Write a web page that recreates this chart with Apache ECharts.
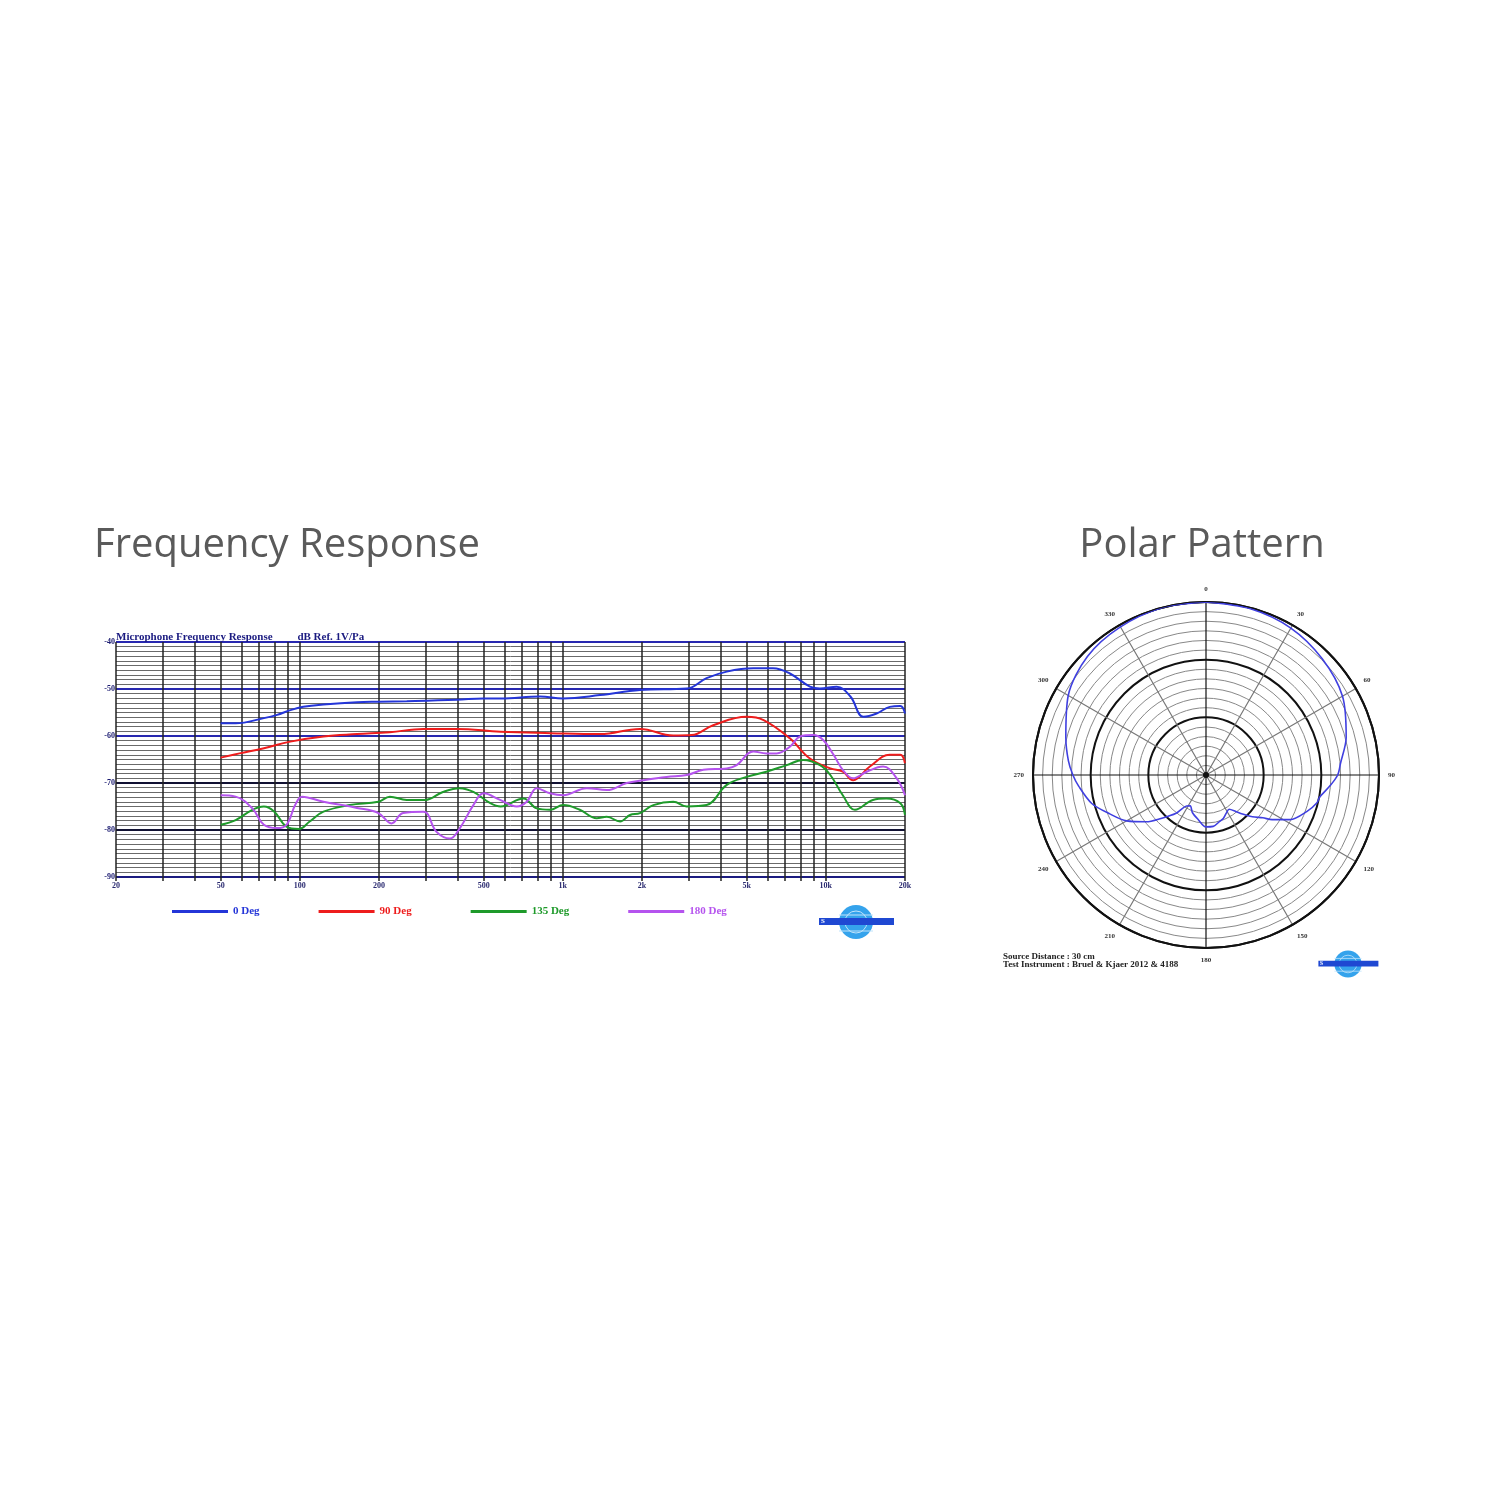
<!DOCTYPE html>
<html>
<head>
<meta charset="utf-8">
<script src="https://cdn.jsdelivr.net/npm/echarts@6/dist/echarts.min.js"></script>
<style>
  html, body { margin: 0; padding: 0; background: #fff; }
  #main { width: 1500px; height: 1500px; }
</style>
</head>
<body>
<div id="main"></div>
<script>
// frequency response, [Hz, dB re 1V/Pa]
var deg0 = [[50,-57.3],[57,-57.3],[73,-56.2],[82,-55.5],[92,-54.5],[103,-53.8],[123,-53.3],[165,-52.8],[200,-52.7],
  [255,-52.6],[395,-52.3],[500,-52.0],[580,-52.0],[820,-51.6],[1000,-52.0],[1385,-51.3],[1965,-50.2],[2960,-49.9],
  [3520,-47.7],[4200,-46.3],[5300,-45.6],[6300,-45.6],[7300,-46.7],[8700,-49.5],[9500,-49.9],[11000,-49.5],
  [12400,-51.6],[13900,-55.9],[15600,-55.2],[17500,-53.8],[19200,-53.6],[20000,-55.2]];
var deg90 = [[50,-64.6],[59,-63.7],[73,-62.6],[92,-61.2],[123,-60.1],[165,-59.6],[220,-59.2],[295,-58.5],[395,-58.5],
  [580,-59.1],[900,-59.4],[1385,-59.6],[1965,-58.5],[2630,-59.9],[3090,-59.8],[3730,-57.7],[5000,-55.9],[5800,-56.6],
  [7300,-60.5],[8700,-64.8],[10400,-66.9],[11600,-67.6],[12700,-69.4],[14700,-66.5],[17500,-64.0],[19200,-64.0],[20000,-65.8]];
var deg135 = [[50,-78.9],[57,-77.9],[66,-75.7],[73,-75.0],[80,-76.1],[89,-79.3],[99,-79.8],[109,-78.2],[123,-76.1],
  [155,-74.7],[199,-74.0],[220,-72.9],[255,-73.6],[300,-73.6],[350,-71.9],[405,-71.1],[457,-71.9],[530,-74.3],
  [580,-75.0],[708,-73.3],[796,-75.4],[894,-75.7],[1004,-74.7],[1160,-75.7],[1345,-77.5],[1470,-77.2],[1650,-78.2],
  [1800,-76.8],[1965,-76.4],[2210,-74.7],[2630,-74.0],[2960,-75.0],[3520,-74.7],[4200,-70.4],[5000,-68.7],[5940,-67.6],
  [7100,-66.2],[8200,-65.1],[9500,-66.2],[10400,-68.3],[11600,-72.6],[12900,-75.7],[15100,-73.6],[17000,-73.3],
  [19200,-74.3],[20000,-76.8]];
var deg180 = [[50,-72.6],[57,-72.9],[66,-75.4],[73,-78.9],[82,-79.6],[89,-78.9],[96,-74.7],[102,-72.9],[123,-74.0],
  [165,-75.3],[199,-76.4],[223,-78.6],[247,-76.4],[295,-76.1],[331,-80.4],[372,-81.8],[406,-79.6],[457,-74.7],
  [500,-72.2],[577,-73.6],[668,-75.0],[729,-74.0],[796,-71.1],[894,-72.2],[1004,-72.6],[1233,-71.1],[1470,-71.5],
  [1750,-70.0],[2020,-69.4],[2480,-68.7],[2960,-68.3],[3420,-67.2],[4200,-66.9],[4580,-66.2],[5300,-63.3],[5940,-63.7],
  [6500,-63.7],[7300,-62.3],[7980,-60.1],[8960,-59.8],[9790,-60.9],[10700,-64.0],[11600,-67.2],[12700,-69.0],
  [14300,-67.6],[16500,-66.5],[18600,-69.0],[20000,-72.6]];

var gridFreqs = [20,30,40,50,60,70,80,90,100,200,300,400,500,600,700,800,900,1000,
  2000,3000,4000,5000,6000,7000,8000,9000,10000,20000];
var labelFreqs = [20,50,100,200,500,1000,2000,5000,10000,20000];
var freqLabels = ['20','50','100','200','500','1k','2k','5k','10k','20k'];

// polar pattern, angle in degrees, level in dB (outer ring = 0)
var polarAngle = [0,15,30,45,60,75,85,90,95,101,104,110,118,124,127,132,138,141,146,152,158,164,172,180,
  190,200,207,212,218,226,232,240,248,256,265,270,276,285,300,315,330,345,360];
var polarLevel = [0,-0.2,-0.7,-1.8,-3.2,-5.8,-7.9,-8.6,-10.1,-11.9,-12.2,-13.7,-16.2,-19.4,-21.2,-23.0,-25.2,-26.3,
  -27.4,-27.0,-26.3,-25.9,-25.2,-25.2,-26.6,-27.7,-28.8,-28.4,-25.9,-23.0,-20.2,-16.9,-14.4,-11.5,-9.4,-8.3,-7.2,
  -5.8,-2.9,-1.1,-0.4,0,0];

var seriesNames = ['0 Deg', '90 Deg', '135 Deg', '180 Deg'];
var seriesColors = ['#2435d8', '#ee1c1c', '#1e9a2a', '#b553ee'];
var seriesData = [deg0, deg90, deg135, deg180];

function toLog(pairs) {
  return pairs.map(function (p) { return [Math.log10(p[0]), p[1]]; });
}

var myChart = echarts.init(document.getElementById('main'));

var smallFont = 'Liberation Serif';

var lineSeries = seriesData.map(function (d, i) {
  return {
    name: seriesNames[i],
    type: 'line',
    xAxisIndex: 0,
    yAxisIndex: 0,
    data: toLog(d),
    smooth: 0.4,
    showSymbol: false,
    lineStyle: { color: seriesColors[i], width: 2 },
    itemStyle: { color: seriesColors[i] },
    z: 5
  };
});

function logo(cx, cy, s) {
  return {
    type: 'group',
    x: cx, y: cy,
    scaleX: s, scaleY: s,
    children: [
      { type: 'circle', shape: { cx: 0, cy: 0, r: 17 }, style: { fill: '#35a3ec' } },
      { type: 'circle', shape: { cx: 0, cy: 0, r: 11 }, style: { fill: 'none', stroke: '#bfe3fb', lineWidth: 1 } },
      { type: 'line', shape: { x1: -17, y1: -7, x2: 17, y2: -7 }, style: { stroke: '#bfe3fb', lineWidth: 1 } },
      { type: 'line', shape: { x1: -17, y1: 9, x2: 17, y2: 9 }, style: { stroke: '#bfe3fb', lineWidth: 1 } },
      { type: 'rect', shape: { x: -37, y: -4, width: 75, height: 7 }, style: { fill: '#1f48d2' } },
      { type: 'text', style: { text: 'S', x: -35, y: -4, fill: '#ffffff', font: 'bold 7px ' + smallFont } }
    ]
  };
}

var option = {
  backgroundColor: '#ffffff',
  animation: false,
  title: [
    { text: 'Frequency Response', left: 94, top: 526, padding: 0,
      textStyle: { fontFamily: 'Open Sans', fontSize: 40, fontWeight: 'normal', color: '#5a5a5a' } },
    { text: 'Polar Pattern', left: 1202, top: 526, padding: 0, textAlign: 'center',
      textStyle: { fontFamily: 'Open Sans', fontSize: 40, fontWeight: 'normal', color: '#5a5a5a' } },
    { text: 'Microphone Frequency Response         dB Ref. 1V/Pa', left: 116, top: 632, padding: 0,
      textStyle: { fontFamily: smallFont, fontSize: 11, fontWeight: 'bold', color: '#1a1a80' } },
    { text: 'Source Distance : 30 cm\nTest Instrument : Bruel & Kjaer 2012 & 4188', left: 1003, top: 953, padding: 0,
      textStyle: { fontFamily: smallFont, fontSize: 9, fontWeight: 'bold', color: '#222', lineHeight: 8 } }
  ],
  legend: {
    left: 172,
    top: 906,
    padding: 0,
    itemWidth: 56,
    itemHeight: 3,
    itemGap: 59,
    icon: 'rect',
    data: seriesNames.map(function (n, i) {
      return { name: n, textStyle: { color: seriesColors[i] } };
    }),
    textStyle: { fontFamily: smallFont, fontSize: 11, fontWeight: 'bold' }
  },
  grid: { left: 116, top: 642, width: 789, height: 235 },
  xAxis: {
    type: 'value',
    min: Math.log10(20),
    max: Math.log10(20000),
    axisLine: { show: false },
    axisTick: {
      show: true,
      length: 4,
      customValues: gridFreqs.map(function (f) { return Math.log10(f); }),
      lineStyle: { color: '#222', width: 1.5 }
    },
    axisLabel: {
      customValues: labelFreqs.map(function (f) { return Math.log10(f); }),
      margin: 5,
      fontFamily: smallFont,
      fontSize: 8,
      fontWeight: 'bold',
      color: '#2a2a70',
      formatter: function (v) {
        var f = Math.pow(10, v);
        var best = 0;
        for (var i = 0; i < labelFreqs.length; i++) {
          if (Math.abs(labelFreqs[i] - f) < Math.abs(labelFreqs[best] - f)) best = i;
        }
        return freqLabels[best];
      }
    },
    splitLine: { show: true, lineStyle: { color: '#222', width: 1.5 } }
  },
  yAxis: {
    type: 'value',
    min: -90,
    max: -40,
    interval: 10,
    axisLine: { show: false },
    axisTick: { show: false },
    axisLabel: { margin: 1, fontFamily: smallFont, fontSize: 8, fontWeight: 'bold', color: '#1a1a70' },
    splitLine: {
      show: true,
      lineStyle: { color: ['#1c1c80', '#111133', '#111133', '#2828b0', '#2828b0', '#2828b0'], width: 2 }
    },
    minorTick: { show: false, splitNumber: 10 },
    minorSplitLine: { show: true, lineStyle: { color: '#6a6a6a', width: 1 } }
  },
  polar: { center: [1206, 775], radius: 173 },
  angleAxis: {
    type: 'value',
    min: 0,
    max: 360,
    interval: 30,
    startAngle: 90,
    clockwise: true,
    axisLine: { show: true, lineStyle: { color: '#111', width: 2 } },
    axisTick: { show: false },
    axisLabel: {
      margin: 9,
      fontFamily: smallFont,
      fontSize: 7,
      fontWeight: 'bold',
      color: '#333',
      formatter: function (v) { return v === 360 ? '' : String(v); }
    },
    splitLine: { show: true, lineStyle: { color: ['#111', '#777', '#777'], width: 1.2 } }
  },
  radiusAxis: {
    type: 'value',
    min: -36,
    max: 0,
    interval: 12,
    axisLine: { show: false },
    axisTick: { show: false },
    axisLabel: { show: false },
    splitLine: { show: true, lineStyle: { color: '#111', width: 2 } },
    minorTick: { show: false, splitNumber: 6 },
    minorSplitLine: { show: true, lineStyle: { color: '#888', width: 1 } }
  },
  graphic: [
    { type: 'circle', shape: { cx: 1206, cy: 775, r: 3 }, style: { fill: '#111' }, z: 10 },
    logo(856, 922, 1),
    logo(1348, 964, 0.8)
  ],
  series: lineSeries.concat([{
    name: 'Polar',
    type: 'line',
    coordinateSystem: 'polar',
    data: polarAngle.map(function (a, i) { return [polarLevel[i], a]; }),
    smooth: 0.3,
    showSymbol: false,
    lineStyle: { color: '#4040e0', width: 1.6 },
    z: 5
  }])
};

myChart.setOption(option);
</script>
</body>
</html>
